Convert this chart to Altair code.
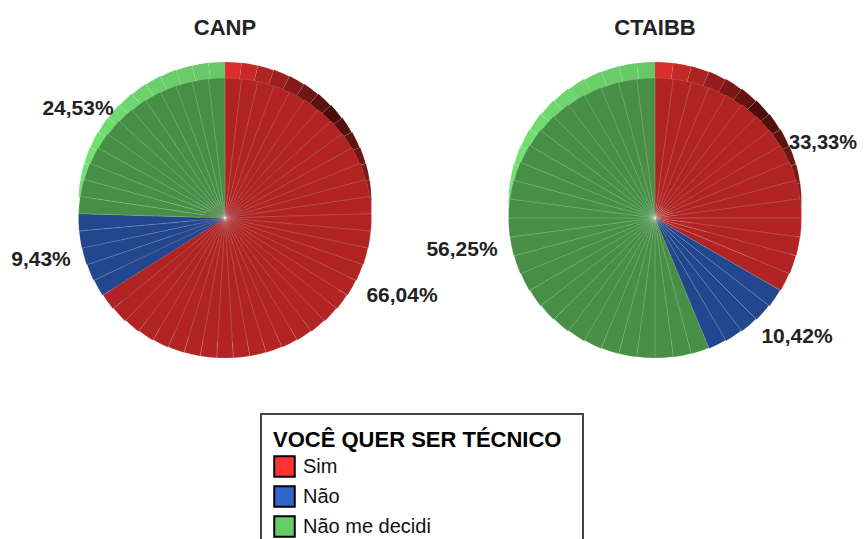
import math
import altair as alt
import pandas as pd

# Respondent counts per school, one wedge per respondent
categories = ["Sim", "Não", "Não me decidi"]
canp_counts = [35, 5, 13]
ctaibb_counts = [16, 5, 27]
canp_labels = ["66,04%", "9,43%", "24,53%"]
ctaibb_labels = ["33,33%", "10,42%", "56,25%"]
legend_colors = ["#ff3333", "#3366cc", "#66cc66"]
FONT = "Liberation Sans"


def mix(hexcol, other, t):
    a = [int(hexcol[i:i + 2], 16) for i in (1, 3, 5)]
    b = [int(other[i:i + 2], 16) for i in (1, 3, 5)]
    return "#" + "".join(f"{round(x + (y - x) * t):02x}" for x, y in zip(a, b))


def rim_colour(cat, mid):
    if cat == "Sim":
        deg = math.degrees(mid)
        if deg < 50:
            return mix("#e63030", "#480d0b", deg / 50)
        return mix("#480d0b", "#8a1f1c", min(1, (deg - 50) / 40))
    if cat == "Não me decidi":
        deg = 360 - math.degrees(mid)
        return mix("#66c566", "#72e072", min(1, deg / 70))
    return "#3366cc"


def wedges(counts):
    rows = []
    total = sum(counts)
    i = 0
    for cat, n in zip(categories, counts):
        for _ in range(n):
            start = 2 * math.pi * i / total
            end = 2 * math.pi * (i + 1) / total
            mid = (start + end) / 2
            r = 1 / math.sqrt((math.sin(mid) / 146.5) ** 2 + (math.cos(mid) / 140) ** 2)
            rows.append(dict(cat=cat, start=start, end=end, r=r, rim=rim_colour(cat, mid)))
            i += 1
    return pd.DataFrame(rows)


theta = alt.Theta("start:Q", scale=None)
theta2 = alt.Theta2("end:Q")
radius = alt.Radius("r:Q", scale=None)
SPOKE = dict(stroke="#ffffff", strokeOpacity=0.2, strokeWidth=0.6)
RIM_SPOKE = dict(stroke="#ffffff", strokeOpacity=0.12, strokeWidth=0.5)


def pie(counts, cx, cy, legend):
    df = wedges(counts)
    x, y = alt.value(cx), alt.value(cy)
    rim_df = df[df["cat"] != "Não"]
    rim = alt.Chart(rim_df).mark_arc(**RIM_SPOKE).encode(
        x=x, y=alt.value(cy - 16), theta=theta, theta2=theta2, radius=radius,
        fill=alt.Fill("rim:N", scale=None),
    )
    base = alt.Chart(df).mark_arc().encode(
        x=x, y=y, theta=theta, theta2=theta2, radius=radius,
        color=alt.Color(
            "cat:N",
            scale=alt.Scale(domain=categories, range=legend_colors),
            legend=legend,
        ),
    )
    shade = alt.Chart(df).mark_arc(fill="#000000", fillOpacity=0.3, **SPOKE).encode(
        x=x, y=y, theta=theta, theta2=theta2, radius=radius,
    )
    return [rim, base, shade]


def text(label, px, py, size=21):
    return alt.Chart(pd.DataFrame({"t": [label]})).mark_text(
        font=FONT, fontWeight="bold", fontSize=size, color="#222222",
        align="center", baseline="middle",
    ).encode(x=alt.value(px - 8), y=alt.value(py - 8), text="t:N")


legend = alt.Legend(
    orient="none", legendX=265, legendY=422, title="VOCÊ QUER SER TÉCNICO",
    titleFont=FONT, titleFontSize=22, titleFontWeight="bold", titleColor="#000000",
    titleLimit=400, labelLimit=300,
    labelFont=FONT, labelFontSize=20, labelColor="#111111",
    symbolType="square", symbolSize=420, symbolStrokeColor="#000000",
    symbolStrokeWidth=2, symbolOpacity=1, rowPadding=1, titlePadding=3,
    labelOffset=7, padding=0,
)

box = alt.Chart(pd.DataFrame({"a": [0]})).mark_rect(
    fill="#ffffff", stroke="#444444", strokeWidth=2
).encode(x=alt.value(253), x2=alt.value(575), y=alt.value(406), y2=alt.value(560))

layers = [box]
layers += pie(canp_counts, 217, 210, legend)
layers += pie(ctaibb_counts, 647, 210, None)
layers += [text("CANP", 225, 28, 22), text("CTAIBB", 655, 28, 22)]
for label, (px, py) in zip(canp_labels, [(402, 296), (41, 260), (78, 109)]):
    layers.append(text(label, px, py))
layers.append(text(ctaibb_labels[0], 823, 143, 20))
for label, (px, py) in zip(ctaibb_labels[1:], [(797, 337), (462, 250)]):
    layers.append(text(label, px, py))

chart = alt.layer(*layers).properties(
    width=850, height=531, padding=0, autosize=alt.AutoSizeParams(type="none")
).configure_view(stroke=None)

chart.save("out.html", embed_options={"renderer": "svg", "actions": False})
